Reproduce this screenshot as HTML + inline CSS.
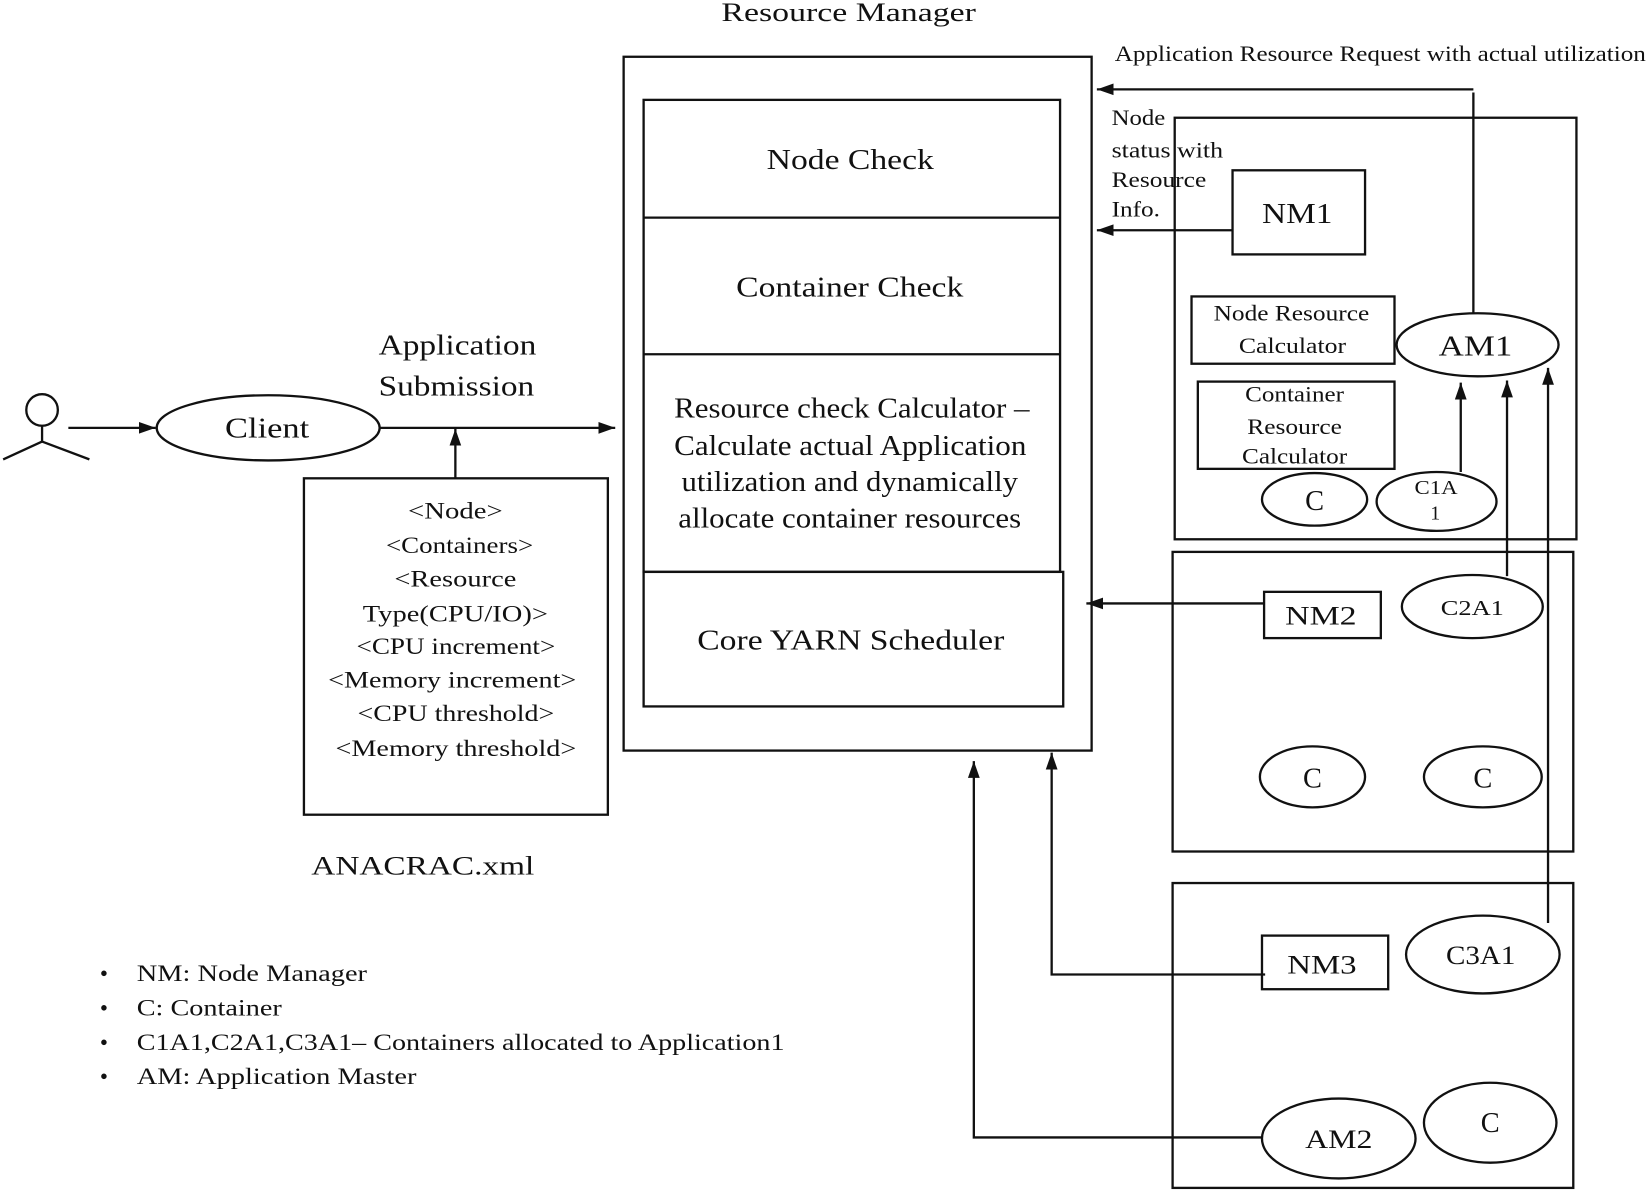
<!DOCTYPE html>
<html><head><meta charset="utf-8"><style>
html,body{margin:0;padding:0;background:#fff;}
svg{display:block;}
text{font-family:"Liberation Serif",serif;fill:#111;}
</style></head><body>
<svg width="1649" height="1190" viewBox="0 0 1568 1132" preserveAspectRatio="none" xmlns="http://www.w3.org/2000/svg">
<defs>
<marker id="b" viewBox="0 0 10 10" refX="10" refY="5" markerWidth="16" markerHeight="16" orient="auto" markerUnits="userSpaceOnUse"><path d="M0,1.5 L10,5 L0,8.5 z" fill="#111"/></marker>
</defs>
<g fill="none" stroke="#111" stroke-width="2.2">
<rect x="593" y="54" width="445" height="660"/>
<rect x="612" y="95" width="396" height="449"/>
<line x1="612" y1="207" x2="1008" y2="207"/>
<line x1="612" y1="337" x2="1008" y2="337"/>
<rect x="612" y="544" width="399" height="128"/>
<circle cx="40" cy="390" r="15"/>
<line x1="40" y1="405" x2="40" y2="420"/>
<line x1="40" y1="420" x2="3" y2="437"/>
<line x1="40" y1="420" x2="85" y2="437"/>
<line x1="65" y1="407" x2="148" y2="407" marker-end="url(#b)"/>
<ellipse cx="255" cy="407" rx="106" ry="31"/>
<line x1="360" y1="407" x2="585" y2="407" marker-end="url(#b)"/>
<rect x="289" y="455" width="289" height="320"/>
<line x1="433" y1="455" x2="433" y2="408" marker-end="url(#b)"/>
<rect x="1117" y="112" width="382" height="401"/>
<rect x="1172" y="162" width="126" height="80"/>
<line x1="1172" y1="219" x2="1043" y2="219" marker-end="url(#b)"/>
<line x1="1401" y1="85" x2="1043" y2="85" marker-end="url(#b)"/>
<line x1="1401" y1="88" x2="1401" y2="298"/>
<ellipse cx="1405" cy="328" rx="77" ry="30"/>
<rect x="1133" y="282" width="193" height="64"/>
<rect x="1139" y="363" width="187" height="83"/>
<ellipse cx="1250" cy="475" rx="50" ry="25"/>
<ellipse cx="1366" cy="477" rx="57" ry="28"/>
<line x1="1389" y1="449" x2="1389" y2="364" marker-end="url(#b)"/>
<line x1="1433" y1="548" x2="1433" y2="362" marker-end="url(#b)"/>
<line x1="1472" y1="878" x2="1472" y2="350" marker-end="url(#b)"/>
<rect x="1115" y="525" width="381" height="285"/>
<rect x="1202" y="563" width="111" height="44"/>
<line x1="1202" y1="574" x2="1033" y2="574" marker-end="url(#b)"/>
<ellipse cx="1400" cy="577" rx="67" ry="30"/>
<ellipse cx="1248" cy="739" rx="50" ry="29"/>
<ellipse cx="1410" cy="739" rx="56" ry="29"/>
<rect x="1115" y="840" width="381" height="290"/>
<rect x="1200" y="890" width="120" height="51"/>
<polyline points="1203,927 1000,927 1000,716" marker-end="url(#b)"/>
<ellipse cx="1410" cy="908" rx="73" ry="37"/>
<ellipse cx="1273" cy="1083" rx="73" ry="38"/>
<polyline points="1200,1082 926,1082 926,724" marker-end="url(#b)"/>
<ellipse cx="1417" cy="1068" rx="63" ry="38"/>
</g>
<g lengthAdjust="spacingAndGlyphs">
<text x="686" y="20" font-size="25" textLength="242" lengthAdjust="spacingAndGlyphs">Resource Manager</text>
<text x="729" y="161" font-size="27" textLength="159" lengthAdjust="spacingAndGlyphs">Node Check</text>
<text x="700" y="282" font-size="27" textLength="216" lengthAdjust="spacingAndGlyphs">Container Check</text>
<text x="641" y="397" font-size="27" textLength="338" lengthAdjust="spacingAndGlyphs">Resource check Calculator –</text>
<text x="641" y="433" font-size="27" textLength="335" lengthAdjust="spacingAndGlyphs">Calculate actual Application</text>
<text x="648" y="467" font-size="27" textLength="320" lengthAdjust="spacingAndGlyphs">utilization and dynamically</text>
<text x="645" y="502" font-size="27" textLength="326" lengthAdjust="spacingAndGlyphs">allocate container resources</text>
<text x="663" y="618" font-size="27" textLength="292" lengthAdjust="spacingAndGlyphs">Core YARN Scheduler</text>
<text x="214" y="416" font-size="27" textLength="80" lengthAdjust="spacingAndGlyphs">Client</text>
<text x="360" y="337" font-size="27" textLength="150" lengthAdjust="spacingAndGlyphs">Application</text>
<text x="360" y="376" font-size="27" textLength="148" lengthAdjust="spacingAndGlyphs">Submission</text>
<text x="388" y="493" font-size="22" textLength="90" lengthAdjust="spacingAndGlyphs">&lt;Node&gt;</text>
<text x="367" y="526" font-size="22" textLength="140" lengthAdjust="spacingAndGlyphs">&lt;Containers&gt;</text>
<text x="375" y="558" font-size="22" textLength="116" lengthAdjust="spacingAndGlyphs">&lt;Resource</text>
<text x="345" y="591" font-size="22" textLength="176" lengthAdjust="spacingAndGlyphs">Type(CPU/IO)&gt;</text>
<text x="339" y="622" font-size="22" textLength="189" lengthAdjust="spacingAndGlyphs">&lt;CPU increment&gt;</text>
<text x="312" y="654" font-size="22" textLength="236" lengthAdjust="spacingAndGlyphs">&lt;Memory increment&gt;</text>
<text x="340" y="686" font-size="22" textLength="187" lengthAdjust="spacingAndGlyphs">&lt;CPU threshold&gt;</text>
<text x="319" y="719" font-size="22" textLength="229" lengthAdjust="spacingAndGlyphs">&lt;Memory threshold&gt;</text>
<text x="296" y="832" font-size="25" textLength="212" lengthAdjust="spacingAndGlyphs">ANACRAC.xml</text>
<text x="1200" y="212" font-size="27" textLength="67" lengthAdjust="spacingAndGlyphs">NM1</text>
<text x="1368" y="338" font-size="27" textLength="70" lengthAdjust="spacingAndGlyphs">AM1</text>
<text x="1154" y="305" font-size="21" textLength="148" lengthAdjust="spacingAndGlyphs">Node Resource</text>
<text x="1178" y="336" font-size="21" textLength="102" lengthAdjust="spacingAndGlyphs">Calculator</text>
<text x="1184" y="382" font-size="21" textLength="94" lengthAdjust="spacingAndGlyphs">Container</text>
<text x="1186" y="413" font-size="21" textLength="90" lengthAdjust="spacingAndGlyphs">Resource</text>
<text x="1181" y="441" font-size="21" textLength="100" lengthAdjust="spacingAndGlyphs">Calculator</text>
<text x="1241" y="485" font-size="27">C</text>
<text x="1345" y="470" font-size="19" textLength="41" lengthAdjust="spacingAndGlyphs">C1A</text>
<text x="1360" y="494" font-size="19">1</text>
<text x="1222" y="594" font-size="25" textLength="68" lengthAdjust="spacingAndGlyphs">NM2</text>
<text x="1370" y="585" font-size="20" textLength="60" lengthAdjust="spacingAndGlyphs">C2A1</text>
<text x="1239" y="749" font-size="27">C</text>
<text x="1401" y="749" font-size="27">C</text>
<text x="1224" y="926" font-size="25" textLength="66" lengthAdjust="spacingAndGlyphs">NM3</text>
<text x="1375" y="917" font-size="25" textLength="66" lengthAdjust="spacingAndGlyphs">C3A1</text>
<text x="1241" y="1092" font-size="25" textLength="64" lengthAdjust="spacingAndGlyphs">AM2</text>
<text x="1408" y="1077" font-size="27">C</text>
<text x="1060" y="58" font-size="21" textLength="505" lengthAdjust="spacingAndGlyphs">Application Resource Request with actual utilization</text>
<text x="1057" y="119" font-size="21" textLength="51" lengthAdjust="spacingAndGlyphs">Node</text>
<text x="1057" y="150" font-size="21" textLength="106" lengthAdjust="spacingAndGlyphs">status with</text>
<text x="1057" y="178" font-size="21" textLength="90" lengthAdjust="spacingAndGlyphs">Resource</text>
<text x="1057" y="206" font-size="21" textLength="46" lengthAdjust="spacingAndGlyphs">Info.</text>
<text x="95" y="933" font-size="22">•</text><text x="130" y="933" font-size="22" textLength="219" lengthAdjust="spacingAndGlyphs">NM: Node Manager</text>
<text x="95" y="966" font-size="22">•</text><text x="130" y="966" font-size="22" textLength="138" lengthAdjust="spacingAndGlyphs">C: Container</text>
<text x="95" y="999" font-size="22">•</text><text x="130" y="999" font-size="22" textLength="616" lengthAdjust="spacingAndGlyphs">C1A1,C2A1,C3A1– Containers allocated to Application1</text>
<text x="95" y="1031" font-size="22">•</text><text x="130" y="1031" font-size="22" textLength="266" lengthAdjust="spacingAndGlyphs">AM: Application Master</text>
</g>
</svg>
</body></html>
